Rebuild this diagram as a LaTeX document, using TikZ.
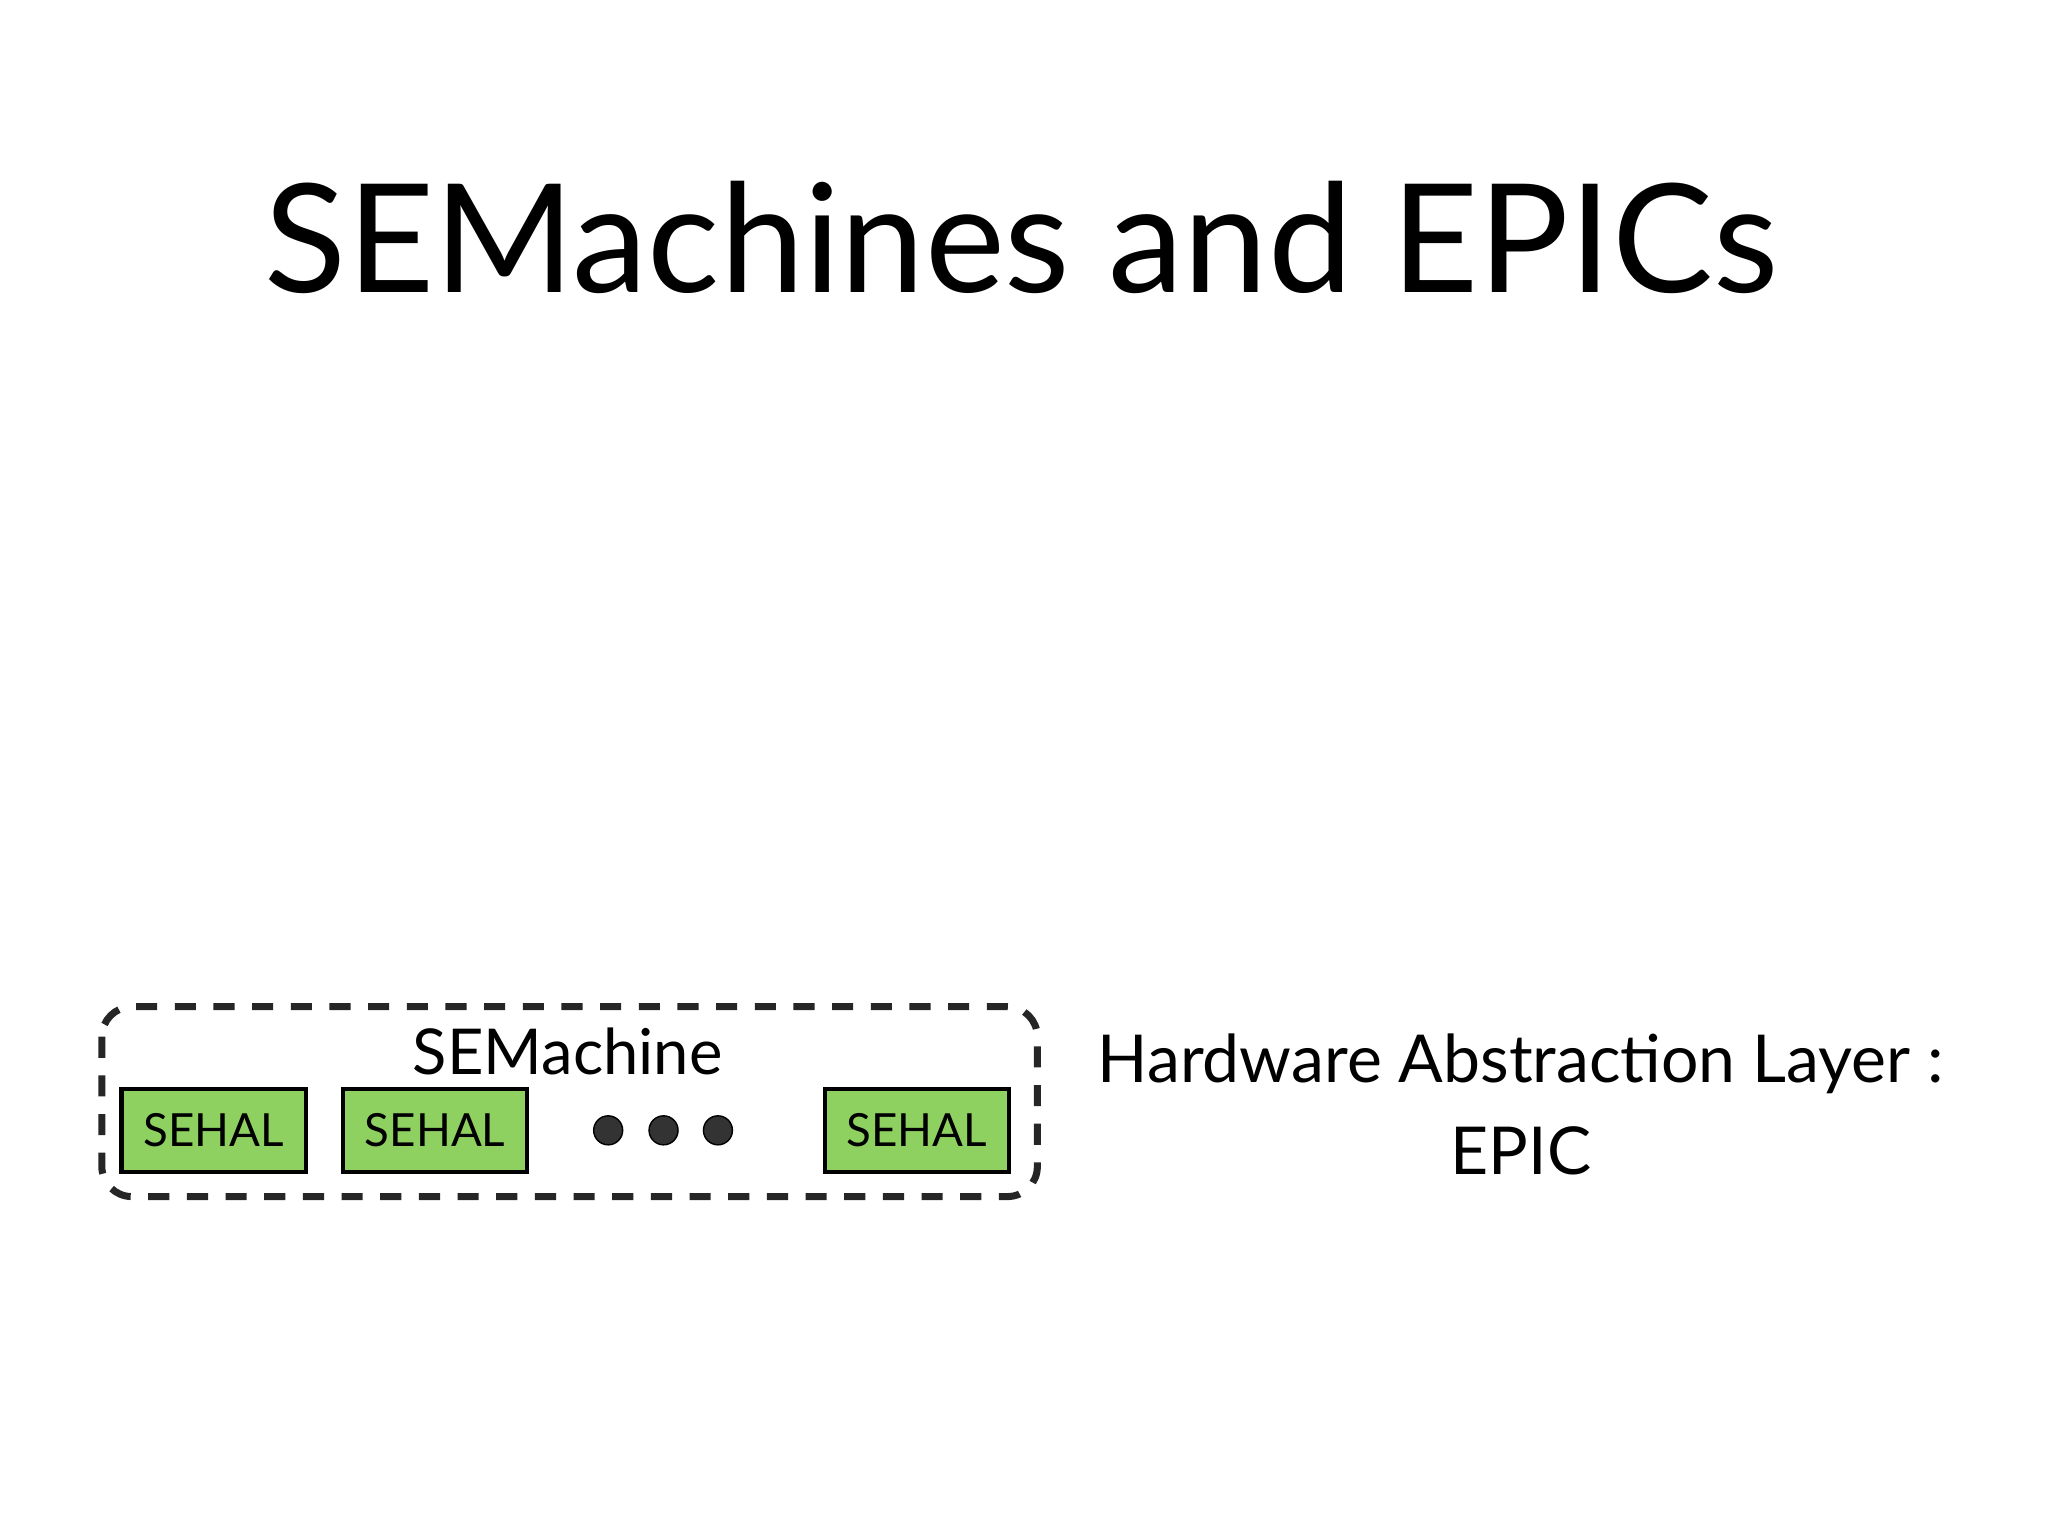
\documentclass[tikz,border=0pt]{standalone}
\usepackage{fontspec}
\setmainfont{Lato}
\definecolor{sehalgreen}{HTML}{8FD160}
\begin{document}
\begin{tikzpicture}[x=0.00989cm,y=-0.00989cm,
  sehal/.style={draw=black,line width=1.2pt,fill=sehalgreen,inner sep=0pt,minimum width=1.84cm,minimum height=0.83cm,font=\fontsize{13}{16}\selectfont},
  dot/.style={circle,fill=black!80,draw=black,inner sep=0pt,minimum size=0.29cm}]
\useasboundingbox (0,0) rectangle (2071,1553);
\node (title) at (1033,240) {\fontsize{43}{50}\selectfont SEMachines and EPICs};
\draw[line width=2pt,dash pattern=on 6pt off 5pt,rounded corners=0.3cm,black!85] (103,1018) rectangle (1049,1210);
\node (sm) at (574,1063) {\fontsize{18}{22}\selectfont SEMachine};
\node[sehal] (s1) at (216,1143) {SEHAL};
\node[sehal] (s2) at (440,1143) {SEHAL};
\node[sehal] (s3) at (927,1143) {SEHAL};
\node[dot] (d1) at (615,1143) {};
\node[dot] (d2) at (671,1143) {};
\node[dot] (d3) at (726,1143) {};
\node[align=center,font=\fontsize{18.8}{26}\selectfont] (hal) at (1538,1117) {Hardware Abstraction Layer :\\EPIC};
\end{tikzpicture}
\end{document}
